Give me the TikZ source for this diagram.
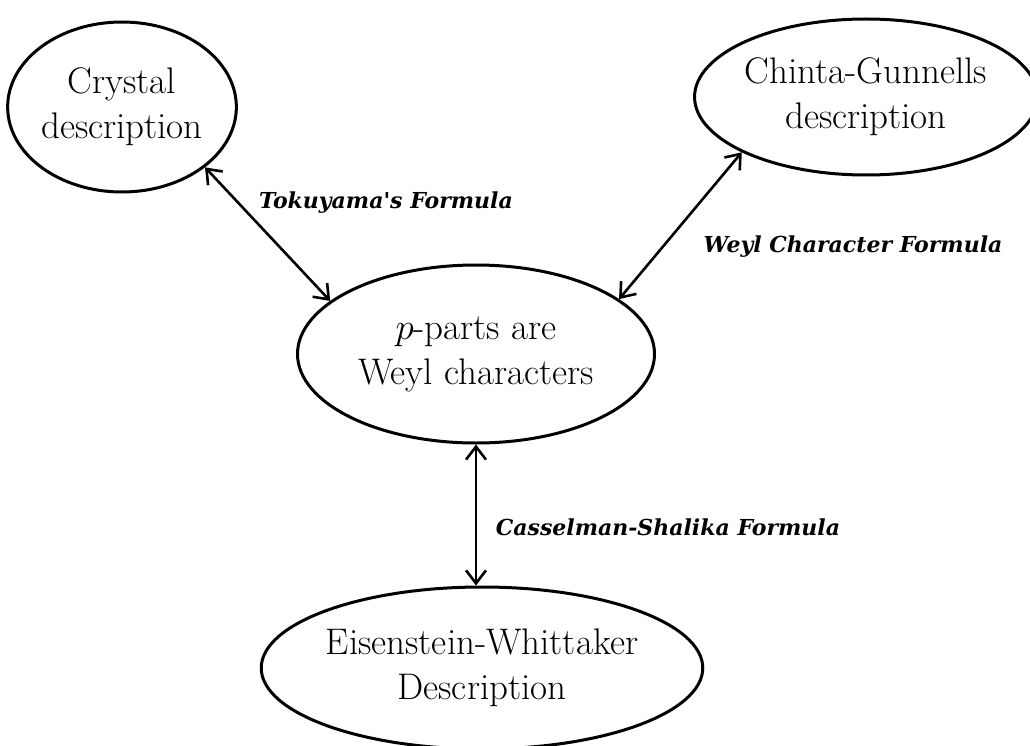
\RequirePackage{fix-cm}
\documentclass[tikz,border=0pt]{standalone}
\usepackage{fontspec}
\newfontfamily\labfont{DejaVu Serif}
\usetikzlibrary{arrows.meta,shapes.geometric}
\begin{document}
\begin{tikzpicture}[x=1pt,y=-1pt,
  desc/.style={draw,ellipse,line width=3pt,inner sep=0pt,align=center,
    font=\fontsize{37}{45}\selectfont},
  link/.style={line width=2.6pt,{Straight Barb[length=13pt,width=20pt]}-{Straight Barb[length=13pt,width=20pt]}},
  lab/.style={font=\labfont\fontsize{22}{26}\selectfont\bfseries\itshape,inner sep=0pt}]
\useasboundingbox (0,0) rectangle (1030,746);
\node[desc,minimum width=225pt,minimum height=170pt] (crys) at (122,107) {Crystal\\description};
\node[desc,minimum width=318pt,minimum height=156pt] (chin) at (866,97) {Chinta-Gunnells\\description};
\node[desc,minimum width=357pt,minimum height=178pt] (weyl) at (476,354) {$p$-parts are\\Weyl characters};
\node[desc,minimum width=400pt,minimum height=162pt] (eis) at (482,668) {Eisenstein-Whittaker\\Description};
\draw[link] (crys.-36) -- (weyl.160);
\draw[link] (chin.-156) -- (weyl.21);
\draw[link] (weyl.south) -- (weyl.south |- eis.north);
\node[lab] (l1) at (386,203) {Tokuyama's Formula};
\node[lab] (l2) at (853,247) {Weyl Character Formula};
\node[lab] (l3) at (668,527) {Casselman-Shalika Formula};
\end{tikzpicture}
\end{document}
